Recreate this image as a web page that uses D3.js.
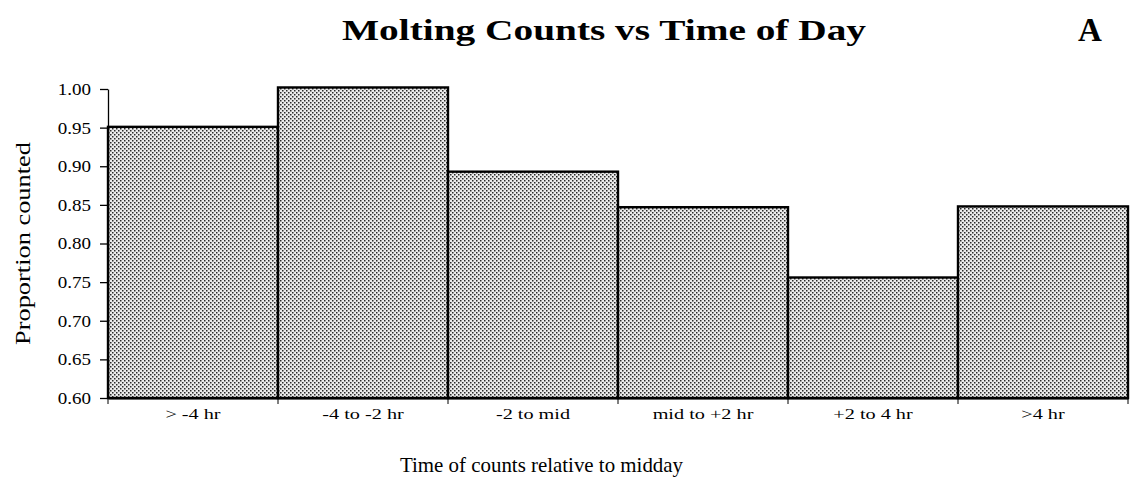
<!DOCTYPE html>
<html lang="en">
<head>
    <meta charset="UTF-8">
    <title>Molting Counts vs Time of Day</title>
    <script src="https://d3js.org/d3.v7.min.js"></script>
    <style>
        body { margin: 0; background: #fff; }
        svg text { font-family: "Liberation Serif", "DejaVu Serif", serif; fill: #000; }
    </style>
</head>
<body>
    <div id="chart"></div>
    <script>
        // Data
        const categories = ["> -4 hr", "-4 to -2 hr", "-2 to mid", "mid to +2 hr", "+2 to 4 hr", ">4 hr"];
        const proportions = [0.951, 1.002, 0.893, 0.847, 0.756, 0.848];
        const yTicks = [0.60, 0.65, 0.70, 0.75, 0.80, 0.85, 0.90, 0.95, 1.00];

        const W = 1132, H = 489;
        const plot = { left: 108, right: 1128, top: 89, bottom: 398 };
        const stretch = 1.35; // the scanned type is wider than Liberation Serif

        const svg = d3.select("#chart")
            .append("svg")
            .attr("width", W)
            .attr("height", H);

        // halftone-like fill
        const pat = svg.append("defs").append("pattern")
            .attr("id", "dots")
            .attr("patternUnits", "userSpaceOnUse")
            .attr("width", 4)
            .attr("height", 4);
        pat.append("rect").attr("width", 4).attr("height", 4).attr("fill", "#ebebeb");
        pat.append("rect").attr("x", 0).attr("y", 0).attr("width", 1.5).attr("height", 1.5).attr("fill", "#2a2a2a");
        pat.append("rect").attr("x", 2).attr("y", 2).attr("width", 1.5).attr("height", 1.5).attr("fill", "#2a2a2a");

        const x = d3.scaleBand()
            .domain(categories)
            .range([plot.left, plot.right])
            .padding(0);

        const y = d3.scaleLinear()
            .domain([0.6, 1.0])
            .range([plot.bottom, plot.top]);

        // bars
        svg.append("g")
            .selectAll("rect")
            .data(categories)
            .join("rect")
            .attr("x", d => x(d))
            .attr("y", (d, i) => y(proportions[i]))
            .attr("width", x.bandwidth())
            .attr("height", (d, i) => y(0.6) - y(proportions[i]))
            .attr("fill", "url(#dots)")
            .attr("stroke", "#000")
            .attr("stroke-width", 2.4);

        // y axis
        svg.append("g")
            .attr("transform", `translate(${plot.left},0)`)
            .call(d3.axisLeft(y)
                .tickValues(yTicks)
                .tickFormat(d3.format(".2f"))
                .tickSize(8)
                .tickSizeOuter(0)
                .tickPadding(0))
            .call(g => g.select(".domain").attr("stroke", "#000").attr("stroke-width", 1.3))
            .call(g => g.selectAll(".tick line").attr("stroke", "#000").attr("stroke-width", 1.3))
            .call(g => g.selectAll(".tick text")
                .attr("x", null)
                .attr("font-size", "17px")
                .attr("transform", "translate(-17,0) scale(1.12,1)"));

        // x axis: labels centred in bars, ticks at bar boundaries
        const xAxis = svg.append("g")
            .attr("transform", `translate(0,${plot.bottom})`)
            .call(d3.axisBottom(x).tickSize(0).tickSizeOuter(0).tickPadding(0))
            .call(g => g.select(".domain").attr("stroke", "#000").attr("stroke-width", 2.2))
            .call(g => g.selectAll(".tick text")
                .attr("y", null)
                .attr("dy", null)
                .attr("font-size", "15px")
                .attr("transform", `translate(0,21) scale(${stretch},1)`));

        const edges = categories.map(d => x(d)).concat([x.range()[1]]);
        xAxis.append("g")
            .selectAll("line")
            .data(edges)
            .join("line")
            .attr("x1", d => d)
            .attr("x2", d => d)
            .attr("y1", 0)
            .attr("y2", 6)
            .attr("stroke", "#000")
            .attr("stroke-width", 1);

        // titles
        svg.append("text")
            .attr("x", 342)
            .attr("y", 40)
            .attr("font-size", "30px")
            .attr("font-weight", "bold")
            .attr("textLength", 524)
            .attr("lengthAdjust", "spacingAndGlyphs")
            .text("Molting Counts vs Time of Day");

        svg.append("text")
            .attr("x", 1090)
            .attr("y", 41)
            .attr("text-anchor", "middle")
            .attr("font-size", "33px")
            .attr("font-weight", "bold")
            .text("A");

        svg.append("text")
            .attr("x", 400)
            .attr("y", 472)
            .attr("font-size", "21px")
            .attr("textLength", 283)
            .attr("lengthAdjust", "spacingAndGlyphs")
            .text("Time of counts relative to midday");

        svg.append("text")
            .attr("transform", `translate(30,345) rotate(-90)`)
            .attr("font-size", "22px")
            .attr("textLength", 203)
            .attr("lengthAdjust", "spacingAndGlyphs")
            .text("Proportion counted");
    </script>
</body>
</html>
